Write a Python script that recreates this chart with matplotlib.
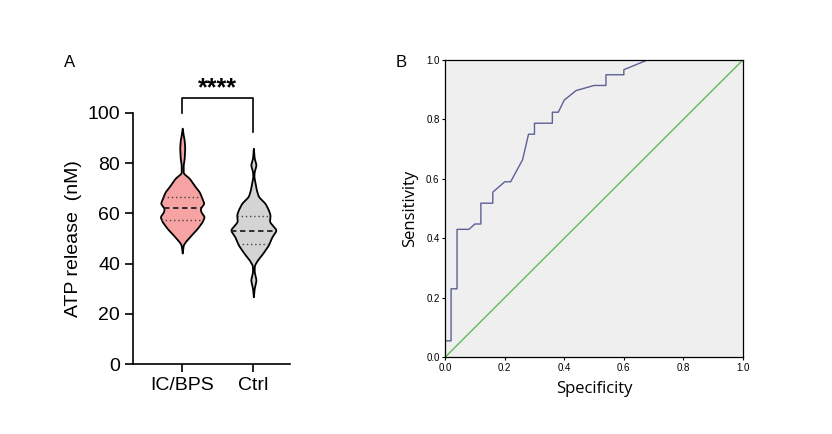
import numpy as np
import matplotlib
matplotlib.use('Agg')
import matplotlib.pyplot as plt

plt.rcParams['font.family'] = ['Liberation Sans', 'DejaVu Sans']

# ---- panel A: violin outlines (value, half width in px)
groups = ['IC/BPS', 'Ctrl']
fills = ['#F7A3A3', '#D4D4D4']

icbps_y = [44.2, 47.4, 48.7, 51.4, 54, 56.7, 58.7, 60.7, 62, 64, 66.7, 68.6, 70.6, 74, 76,
           79.3, 82, 86, 89, 91.2, 93.9]
icbps_w = [0, 1, 3, 9, 15, 20, 22, 18.5, 18, 21.7, 19, 17, 13, 7, 1,
           1, 2, 2.5, 2, 1, 0]
ctrl_y = [26.8, 30.1, 33.5, 36.8, 39.4, 41.4, 44.1, 47.4, 50.7, 53.4, 56.7, 59.4, 61.4, 64,
          66.7, 69.3, 74.6, 76.6, 79.3, 82, 85.9]
ctrl_w = [0, 0.8, 2.7, 0.8, 1, 4, 9.3, 15, 18.5, 23, 16, 16.7, 15, 11.7,
          5, 3, 0.5, 0.8, 2.7, 0.8, 0]

medians = [62, 53]
q1 = [57.5, 48]
q3 = [66.5, 59]

# ---- panel B: ROC curve
spec = [0, 0, 0.02, 0.02, 0.04, 0.04, 0.08, 0.10, 0.12, 0.12, 0.16, 0.16, 0.20, 0.22, 0.26, 0.28,
        0.30, 0.30, 0.36, 0.36, 0.38, 0.40, 0.44, 0.50, 0.54, 0.54, 0.60, 0.60, 0.68, 1.0]
sens = [0, 0.055, 0.055, 0.23, 0.23, 0.43, 0.43, 0.448, 0.448, 0.518, 0.518, 0.555, 0.59, 0.59, 0.664, 0.75,
        0.75, 0.787, 0.787, 0.824, 0.824, 0.865, 0.897, 0.914, 0.914, 0.95, 0.95, 0.967, 1.0, 1.0]


def smooth_outline(yy, ww, n=400, k=9):
    # resample the outline on a fine grid and soften the corners a little
    fy = np.linspace(yy[0], yy[-1], n)
    fw = np.interp(fy, yy, ww)
    kern = np.ones(k) / k
    fw = np.convolve(np.pad(fw, k // 2, mode='edge'), kern, mode='valid')
    fw[0] = fw[-1] = 0
    return fy, fw


fig = plt.figure(figsize=(8.32, 4.34), dpi=100)

px_per_unit = 71.0
ax = fig.add_axes([0.160, 0.161, 0.189, 0.579])
for i, (yy, ww) in enumerate([(icbps_y, icbps_w), (ctrl_y, ctrl_w)]):
    fy, fw = smooth_outline(np.array(yy, float), np.array(ww, float) / px_per_unit)
    ax.fill_betweenx(fy, i - fw, i + fw, facecolor=fills[i], edgecolor='black', linewidth=1.3, zorder=2)
    hw = np.interp(medians[i], fy, fw)
    ax.plot([i - hw, i + hw], [medians[i]] * 2, color='#222222', ls=(0, (3, 2)), lw=1.3, zorder=3)
    for q in (q1[i], q3[i]):
        hq = np.interp(q, fy, fw)
        ax.plot([i - hq, i + hq], [q, q], color='#444444', ls=(0, (1, 2)), lw=1.0, zorder=3)

ax.set_xlim(-0.69, 1.52)
ax.set_ylim(0, 100)
ax.set_xticks([0, 1])
ax.set_xticklabels(groups, fontsize=14)
ax.set_yticks([0, 20, 40, 60, 80, 100])
ax.tick_params(labelsize=14, width=1.2, length=6)
ax.set_ylabel('ATP release  (nM)', fontsize=14)
for s in ('top', 'right'):
    ax.spines[s].set_visible(False)
for s in ('left', 'bottom'):
    ax.spines[s].set_linewidth(1.2)

# significance bracket
ax.plot([0, 0, 1, 1], [100, 106, 106, 92.5], color='black', lw=1.2, clip_on=False)
ax.text(0.5, 105, '****', ha='center', va='bottom', fontsize=18, fontweight='bold')
fig.text(0.084, 0.857, 'A', fontsize=12, ha='center', va='center')

# ---- panel B
bx = fig.add_axes([0.535, 0.177, 0.358, 0.685])
bx.set_facecolor('#EFEFEF')
bx.plot([0, 1], [0, 1], color='#5DBB5D', lw=1.0)
bx.plot(spec, sens, color='#5B6196', lw=1.0)
bx.set_xlim(0, 1)
bx.set_ylim(0, 1)
ticks = np.arange(0, 1.01, 0.2)
bx.set_xticks(ticks)
bx.set_yticks(ticks)
bx.set_xticklabels(['%.1f' % t for t in ticks])
bx.set_yticklabels(['%.1f' % t for t in ticks])
bx.tick_params(labelsize=7, length=2, width=0.8, pad=2)
for s in bx.spines.values():
    s.set_linewidth(0.9)
bx.set_xlabel('Specificity', fontsize=12, family='Open Sans', labelpad=6)
bx.set_ylabel('Sensitivity', fontsize=12, family='Open Sans', labelpad=6)
fig.text(0.482, 0.857, 'B', fontsize=12, ha='center', va='center')

fig.savefig('out.png', dpi=100)
